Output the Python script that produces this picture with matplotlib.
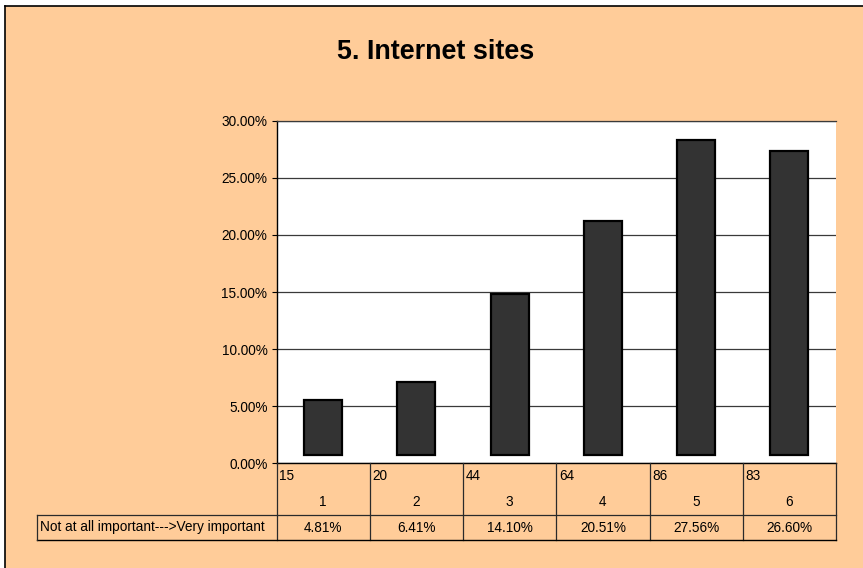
import matplotlib
matplotlib.use("Agg")
import matplotlib.pyplot as plt
import matplotlib.transforms as mtransforms
from matplotlib.lines import Line2D
from matplotlib.patches import Rectangle

plt.rcParams['font.family'] = ['Liberation Sans', 'DejaVu Sans']

categories = ["1", "2", "3", "4", "5", "6"]
counts = [15, 20, 44, 64, 86, 83]
percent_values = [4.81, 6.41, 14.10, 20.51, 27.56, 26.60]
row_label = "Not at all important--->Very important"
title = "5. Internet sites"
y_ticks = [0, 5, 10, 15, 20, 25, 30]

W, H = 863, 568
fig = plt.figure(figsize=(W / 100, H / 100), dpi=100)
fig.patch.set_facecolor('white')

PEACH = '#FFCC99'
FS = 9.85
# chart area background with border (top and left visible)
fig.add_artist(Rectangle((5 / W, 0), 1 - 5 / W, 1 - 6 / H, transform=fig.transFigure,
                         facecolor=PEACH, edgecolor='none', zorder=0))
fig.add_artist(Line2D([5 / W, 1], [1 - 6 / H, 1 - 6 / H], transform=fig.transFigure,
                      color='black', lw=1.2, zorder=1))
fig.add_artist(Line2D([5 / W, 5 / W], [0, 1 - 6 / H], transform=fig.transFigure,
                      color='black', lw=1.2, zorder=1))

# plot area
left_px, right_px, top_px, bot_px = 276.5, 836.0, 120.7, 463.3
ax = fig.add_axes([left_px / W, 1 - bot_px / H, (right_px - left_px) / W, (bot_px - top_px) / H])
ax.set_facecolor('white')

x = list(range(len(categories)))
bar_base = 0.75
ax.bar(x, percent_values, bottom=bar_base, width=0.41, color='#333333',
       edgecolor='black', linewidth=1.6, zorder=3)

ax.set_xlim(-0.5, len(categories) - 0.5)
ax.set_ylim(0, 30)
ax.set_yticks(y_ticks)
ax.set_yticklabels([f"{v:.2f}%" for v in y_ticks], fontsize=FS)
ax.tick_params(axis='y', direction='out', length=3.5, width=0.8, color='black', pad=3)
ax.set_xticks([])
ax.grid(axis='y', color='#3a3a3a', linewidth=0.9, zorder=1)
ax.set_axisbelow(True)
ax.spines['right'].set_visible(False)
ax.spines['top'].set_color('#3a3a3a')
ax.spines['top'].set_linewidth(0.9)
ax.spines['left'].set_color('black')
ax.spines['left'].set_linewidth(1.0)
ax.spines['bottom'].set_color('black')
ax.spines['bottom'].set_linewidth(1.0)

# data table below the plot
ax_h = bot_px - top_px
def yfrac(ypix):
    return (bot_px - ypix) / ax_h

row1_bot = yfrac(515.0)
row2_bot = yfrac(540.0)
blend = mtransforms.blended_transform_factory(ax.transData, ax.transAxes)

edge_col = '#2a2a2a'
n = len(categories)
for i in range(n + 1):
    ax.plot([i - 0.5, i - 0.5], [0, row2_bot], transform=blend, color=edge_col,
            lw=0.9, clip_on=False, zorder=5)
ax.plot([-0.5, n - 0.5], [row1_bot, row1_bot], transform=blend, color=edge_col,
        lw=0.9, clip_on=False, zorder=5)

# label cell + bottom line, in figure coordinates
label_left = 37.0
fy1 = 1 - 515.0 / H
fy2 = 1 - 540.0 / H
fig.add_artist(Line2D([label_left / W, left_px / W], [fy1, fy1], transform=fig.transFigure,
                      color=edge_col, lw=0.9))
fig.add_artist(Line2D([label_left / W, right_px / W], [fy2, fy2], transform=fig.transFigure,
                      color='black', lw=1.0))
fig.add_artist(Line2D([label_left / W, label_left / W], [fy1, fy2], transform=fig.transFigure,
                      color=edge_col, lw=0.9))
fig.text((label_left + 3) / W, (fy1 + fy2) / 2, row_label, fontsize=FS,
         ha='left', va='center')

for i, (c, cnt, p) in enumerate(zip(categories, counts, percent_values)):
    ax.annotate(str(cnt), xy=(i - 0.5, yfrac(476)), xycoords=blend,
                xytext=(2, 0), textcoords='offset points', ha='left', va='center',
                fontsize=FS, annotation_clip=False)
    ax.text(i, yfrac(502), c, transform=blend, ha='center', va='center', fontsize=FS)
    ax.text(i, yfrac(528), f"{p:.2f}%", transform=blend, ha='center', va='center',
            fontsize=FS)

fig.text(435.5 / W, 1 - 52 / H, title, fontsize=19.4, fontweight='bold',
         ha='center', va='center')

fig.savefig('out.png', dpi=100, facecolor=fig.get_facecolor())
